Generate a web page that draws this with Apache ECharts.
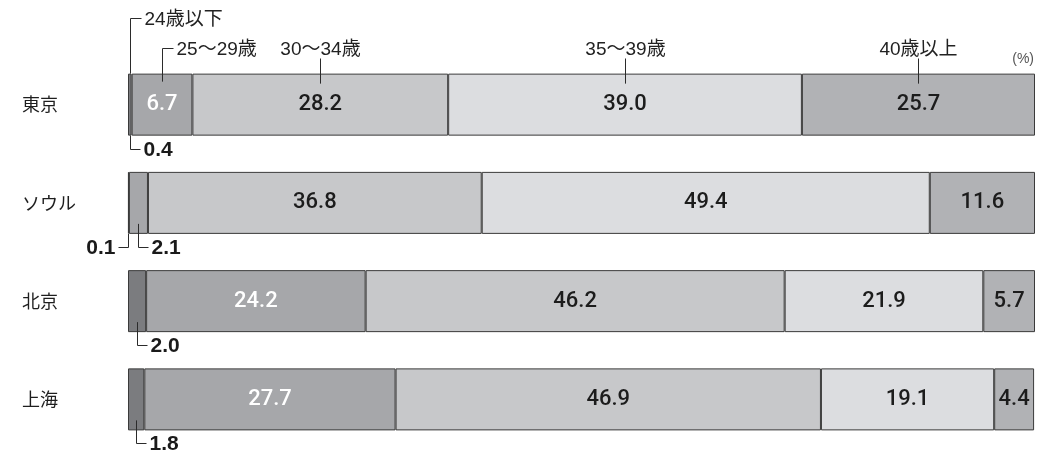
<!DOCTYPE html>
<html>
<head>
<meta charset="utf-8">
<script src="https://cdn.jsdelivr.net/npm/echarts@6/dist/echarts.min.js"></script>
<style>
  html, body { margin: 0; padding: 0; background: #fff; }
  #chart { width: 1055px; height: 454px; }
</style>
</head>
<body>
<div id="chart"></div>
<script>
// Age composition by city (%)
const cities = ['東京', 'ソウル', '北京', '上海'];
const ageGroups = ['24歳以下', '25〜29歳', '30〜34歳', '35〜39歳', '40歳以上'];
const under24 = [0.4, 0.1, 2.0, 1.8];
const age25to29 = [6.7, 2.1, 24.2, 27.7];
const age30to34 = [28.2, 36.8, 46.2, 46.9];
const age35to39 = [39.0, 49.4, 21.9, 19.1];
const over40 = [25.7, 11.6, 5.7, 4.4];
const unitLabel = '(%)';

const shares = [under24, age25to29, age30to34, age35to39, over40];

// styling
const fills = ['#7b7c7f', '#a6a7aa', '#c7c8ca', '#dcdde0', '#b1b2b5'];
const BAR = 62;
const LATIN = "'Liberation Sans', 'Noto Sans CJK JP', sans-serif";
const NUM = "Roboto, 'Liberation Sans', sans-serif";
const CJK = "'Noto Sans CJK JP', sans-serif";
const INSIDE_MIN = 3;   // narrower segments get a callout below the bar

// segment start offsets for each city
function segStart(city, g) {
  let s = 0;
  for (let k = 0; k < g; k++) s += shares[k][city];
  return s;
}

// callouts for narrow segments
const smallCallouts = [];
cities.forEach((_, c) => {
  shares.forEach((arr, g) => {
    const v = arr[c];
    if (v < INSIDE_MIN) {
      const nextSmall = g + 1 < shares.length && shares[g + 1][c] < INSIDE_MIN;
      smallCallouts.push({ city: c, group: g, value: v, mid: segStart(c, g) + v / 2, side: nextSmall ? 'left' : 'right' });
    }
  });
});

// group name callouts above the first bar
const headCallouts = ageGroups.map((name, g) => ({
  name, group: g, mid: segStart(0, g) + shares[g][0] / 2
}));

const barSeries = ageGroups.map((name, g) => ({
  name,
  type: 'bar',
  stack: 'total',
  barWidth: BAR,
  data: shares[g],
  itemStyle: { color: fills[g], borderColor: '#3a3a3a', borderWidth: 1 },
  label: {
    show: true,
    position: 'inside',
    formatter: p => (p.value < INSIDE_MIN ? '' : p.value.toFixed(1)),
    color: g === 1 ? '#ffffff' : '#1c1c1c',
    fontFamily: NUM,
    fontSize: 22,
    fontWeight: 500
  }
}));

const smallSeries = {
  type: 'custom',
  clip: false,
  silent: true,
  z: 5,
  data: smallCallouts.map(o => [o.mid, o.city]),
  encode: { x: 0, y: 1 },
  renderItem(params, api) {
    const o = smallCallouts[params.dataIndex];
    const p = api.coord([o.mid, o.city]);
    const x = Math.round(p[0]) + 0.5;
    const bottom = p[1] + BAR / 2;
    const yEnd = Math.round(bottom + 13) + 0.5;
    const yStart = o.value < 1 ? bottom : bottom - 10;
    const dir = o.side === 'left' ? -1 : 1;
    return {
      type: 'group',
      children: [
        { type: 'polyline', shape: { points: [[x, yStart], [x, yEnd], [x + dir * 10, yEnd]] },
          style: { stroke: '#2b2b2b', lineWidth: 1, fill: null } },
        { type: 'text', x: x + dir * 13, y: yEnd + 1,
          style: { text: o.value.toFixed(1), fill: '#1a1a1a', fontFamily: LATIN, fontSize: 21, fontWeight: 'bold',
                   align: o.side === 'left' ? 'right' : 'left', verticalAlign: 'middle' } }
      ]
    };
  }
};

// how far above the bar top each group name sits (elbow callouts for the narrow first two)
const headRise = [56, 26, 26, 26, 26];
const headElbow = [true, true, false, false, false];

const headSeries = {
  type: 'custom',
  clip: false,
  silent: true,
  z: 5,
  data: headCallouts.map(o => [o.mid, 0]),
  encode: { x: 0, y: 1 },
  renderItem(params, api) {
    const o = headCallouts[params.dataIndex];
    const p = api.coord([o.mid, 0]);
    const x = Math.round(p[0]) + 0.5;
    const top = p[1] - BAR / 2;
    const yText = Math.round(top - headRise[o.group]) + 0.5;
    const children = [];
    if (headElbow[o.group]) {
      const yStart = o.group === 0 ? top : top + 8;
      children.push({ type: 'polyline', shape: { points: [[x, yStart], [x, yText], [x + 11, yText]] },
        style: { stroke: '#2b2b2b', lineWidth: 1, fill: null } });
      children.push({ type: 'text', x: x + 14, y: yText + 1,
        style: { text: o.name, fill: '#222', fontFamily: LATIN, fontSize: 19, align: 'left', verticalAlign: 'middle' } });
    } else {
      children.push({ type: 'line', shape: { x1: x, y1: top + 10, x2: x, y2: yText + 10 },
        style: { stroke: '#2b2b2b', lineWidth: 1 } });
      children.push({ type: 'text', x: x, y: yText + 1,
        style: { text: o.name, fill: '#222', fontFamily: LATIN, fontSize: 19, align: 'center', verticalAlign: 'middle' } });
    }
    return { type: 'group', children };
  }
};

const chart = echarts.init(document.getElementById('chart'), null, { renderer: 'canvas' });
chart.setOption({
  animation: false,
  backgroundColor: '#ffffff',
  grid: { left: 128, right: 20, top: 55.5, bottom: 5.5 },
  xAxis: { type: 'value', min: 0, max: 100, show: false },
  yAxis: {
    type: 'category',
    data: cities,
    inverse: true,
    axisLine: { show: false },
    axisTick: { show: false },
    axisLabel: { align: 'left', margin: 106, color: '#1e1e1e', fontFamily: CJK, fontSize: 18 }
  },
  graphic: [{
    type: 'text', right: 21, top: 52,
    style: { text: unitLabel, fill: '#555', fontFamily: LATIN, fontSize: 14 }
  }],
  series: [...barSeries, smallSeries, headSeries]
});
</script>
</body>
</html>
